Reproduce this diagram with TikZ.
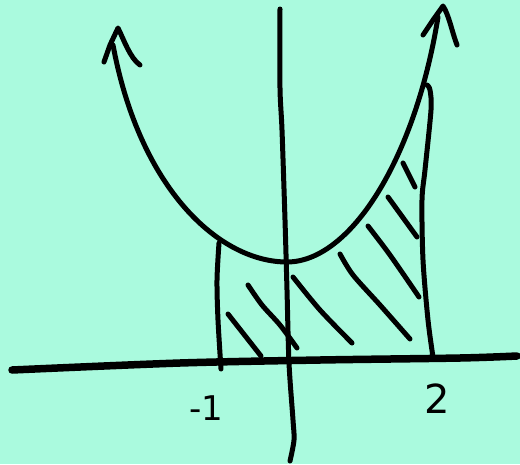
\documentclass[tikz,border=0pt]{standalone}
\usepackage{fontspec}
\setmainfont{DejaVu Sans}
\definecolor{bgc}{RGB}{170,250,222}
\tikzset{
  ink/.style={line width=5pt, line cap=round, line join=round, black},
  axisink/.style={line width=7.5pt, line cap=round, line join=round, black},
  hatch/.style={line width=5pt, line cap=round, black},
  lbl/.style={font=\fontsize{34}{34}\selectfont, inner sep=0pt},
  biglbl/.style={font=\fontsize{40}{40}\selectfont, inner sep=0pt}
}
\begin{document}
\begin{tikzpicture}[x=1pt,y=-1pt]
\fill[bgc] (0,0) rectangle (520,464);
\useasboundingbox (0,0) rectangle (520,464);
% y-axis
\draw[ink] plot[smooth] coordinates {(280,9) (280,88) (282,130) (285,220) (287,290) (289,363) (293,420) (294,440) (290,461)};
% x-axis
\draw[axisink] plot[smooth] coordinates {(12,370) (180,363) (320,360) (460,358) (517,356)};
% parabola
\draw[ink] (113,45) .. controls (140,190) and (220,262) .. (287,262)
                    .. controls (350,262) and (415,160) .. (438,17);
% left arrowhead
\draw[ink] (104,62) -- (110,45) -- (118,28) .. controls (124,40) and (130,58) .. (140,65);
% right arrowhead
\draw[ink] (423,35) -- (433,20) -- (443,6) .. controls (449,15) and (452,32) .. (457,45);
% vertical at -1
\draw[ink] plot[smooth] coordinates {(219,243) (217,280) (218,320) (221,369)};
% vertical at 2
\draw[ink] plot[smooth] coordinates {(427,85) (430,90) (431,110) (425,170) (422,200) (423,260) (428,320) (433,357)};
% hatching
\draw[hatch] (228,314) -- (261,356);
\draw[hatch] plot[smooth] coordinates {(248,285) (262,305) (280,325) (297,348)};
\draw[hatch] plot[smooth] coordinates {(293,277) (320,310) (352,343)};
\draw[hatch] plot[smooth] coordinates {(340,254) (353,275) (380,305) (410,339)};
\draw[hatch] plot[smooth] coordinates {(368,226) (390,255) (419,297)};
\draw[hatch] (388,197) -- (417,237);
\draw[hatch] (403,163) -- (415,187);
% labels
\node[lbl] (m1) at (206,408) {-1};
\node[biglbl] (two) at (437,399) {2};
\end{tikzpicture}
\end{document}
